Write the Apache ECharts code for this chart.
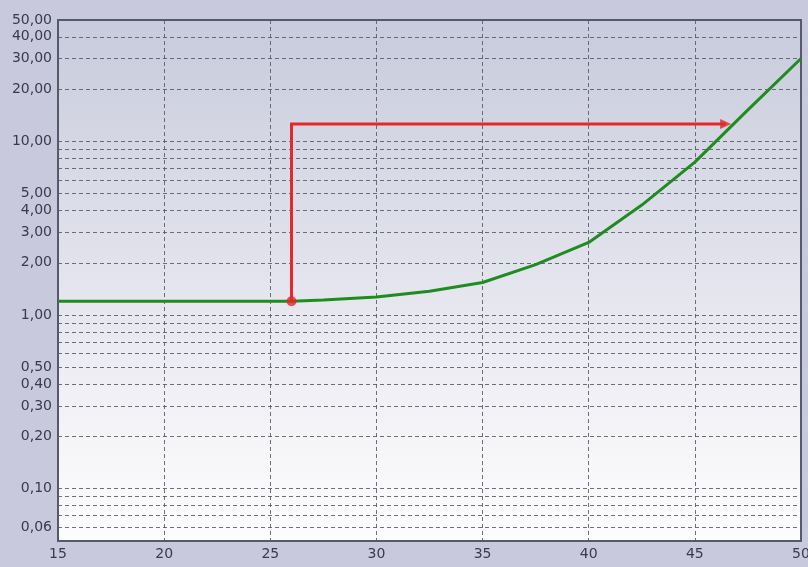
<!DOCTYPE html>
<html>
<head>
<meta charset="utf-8">
<script src="https://cdn.jsdelivr.net/npm/echarts@6/dist/echarts.min.js"></script>
<style>
  html, body { margin: 0; padding: 0; background: #c9c9dd; }
  #chart { width: 808px; height: 567px; }
</style>
</head>
<body>
<div id="chart"></div>
<script>
// Curve: x position vs. value on a logarithmic scale
const curveX = [15, 20, 25, 26, 27.5, 30, 32.5, 35, 37.5, 40, 42.5, 45, 47.5, 50];
const curveY = [1.2, 1.2, 1.2, 1.2, 1.22, 1.27, 1.37, 1.54, 1.95, 2.62, 4.3, 7.6, 15.2, 30];

// Reading path: start point on the curve, up to the target level, across to the curve
const pathX = [26, 26, 46.45];
const pathY = [1.2, 12.6, 12.6];
const arrowTip = [46.45, 12.6];

// Axis ticks
const xTicks = [15, 20, 25, 30, 35, 40, 45, 50];
const yGridValues = [0.06, 0.07, 0.08, 0.09, 0.1, 0.2, 0.3, 0.4, 0.5, 0.6, 0.7, 0.8, 0.9,
                     1, 2, 3, 4, 5, 6, 7, 8, 9, 10, 20, 30, 40];
const yLabelValues = [0.06, 0.1, 0.2, 0.3, 0.4, 0.5, 1, 2, 3, 4, 5, 10, 20, 30, 40, 50];

const fmt = v => Number(v).toFixed(2).replace('.', ',');

const chart = echarts.init(document.getElementById('chart'), null, { renderer: 'canvas' });

const gridLineStyle = { color: '#565766', width: 1, type: [4, 3], opacity: 0.85 };

chart.setOption({
  animation: false,
  backgroundColor: '#c9c9dd',
  grid: {
    left: 58, right: 7, top: 20, bottom: 26,
    outerBoundsMode: 'none',
    containLabel: false,
    show: true,
    borderColor: '#555a6c',
    borderWidth: 2,
    backgroundColor: {
      type: 'linear', x: 0, y: 0, x2: 0, y2: 1,
      colorStops: [
        { offset: 0, color: '#c8cbdc' },
        { offset: 0.5, color: '#e3e4ed' },
        { offset: 0.8, color: '#f5f5f8' },
        { offset: 1, color: '#fdfdfe' }
      ]
    }
  },
  xAxis: {
    type: 'value',
    min: xTicks[0],
    max: xTicks[xTicks.length - 1],
    interval: 5,
    axisLine: { show: false },
    axisTick: { show: false },
    axisLabel: {
      color: '#3a3a48',
      fontFamily: 'DejaVu Sans',
      fontSize: 14,
      margin: 6
    },
    splitLine: { show: true, lineStyle: gridLineStyle }
  },
  yAxis: {
    type: 'log',
    logBase: 10,
    min: 0.05,
    max: 50,
    axisLine: { show: false },
    axisTick: { show: false, customValues: yGridValues },
    axisLabel: {
      customValues: yLabelValues,
      formatter: fmt,
      color: '#3a3a48',
      fontFamily: 'DejaVu Sans',
      fontSize: 14,
      margin: 6,
      padding: [0, 0, 3, 0]
    },
    splitLine: { show: true, lineStyle: gridLineStyle }
  },
  series: [
    {
      type: 'line',
      name: 'curve',
      data: curveX.map((x, i) => [x, curveY[i]]),
      symbol: 'none',
      lineStyle: { color: '#1f8c1f', width: 3 },
      z: 3
    },
    {
      type: 'line',
      name: 'path',
      data: pathX.map((x, i) => [x, pathY[i]]),
      symbol: 'none',
      lineStyle: { color: '#e4282b', width: 3, join: 'miter' },
      z: 4
    },
    {
      type: 'scatter',
      name: 'start',
      data: [[pathX[0], pathY[0]]],
      symbol: 'circle',
      symbolSize: 10,
      itemStyle: { color: '#e4282b' },
      z: 5
    },
    {
      type: 'scatter',
      name: 'arrow',
      data: [arrowTip],
      symbol: 'triangle',
      symbolRotate: -90,
      symbolSize: [10, 11],
      itemStyle: { color: '#e4282b' },
      z: 5
    }
  ]
});
</script>
</body>
</html>
